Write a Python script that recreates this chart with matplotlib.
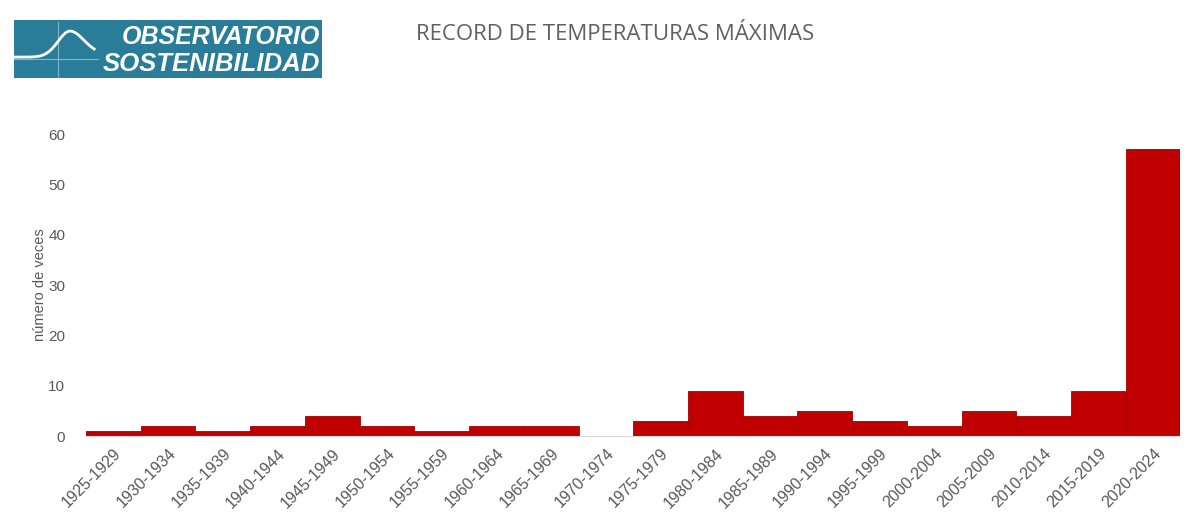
import matplotlib.pyplot as plt
import numpy as np

# periods and record counts
periodos = [
    "1925-1929", "1930-1934", "1935-1939", "1940-1944", "1945-1949",
    "1950-1954", "1955-1959", "1960-1964", "1965-1969", "1970-1974",
    "1975-1979", "1980-1984", "1985-1989", "1990-1994", "1995-1999",
    "2000-2004", "2005-2009", "2010-2014", "2015-2019", "2020-2024",
]
records = [1, 2, 1, 2, 4, 2, 1, 2, 2, 0, 3, 9, 4, 5, 3, 2, 5, 4, 9, 57]
yticks = [0, 10, 20, 30, 40, 50, 60]

gray = "#595959"
red = "#c00000"

fig = plt.figure(figsize=(12, 5.28), dpi=100)
ax = fig.add_axes([0.0717, 0.174, 0.912, 0.572])

x = np.arange(len(periodos))
ax.bar(x, records, width=1.0, color=red, edgecolor="#a80000", linewidth=0.6)
ax.set_xlim(-0.5, len(periodos) - 0.5)
ax.set_ylim(0, 60)
ax.set_yticks(yticks)
ax.set_xticks(x)
ax.set_xticklabels(periodos, rotation=45, ha="right", rotation_mode="anchor",
                   fontsize=11.5, color=gray, family="Liberation Sans")
ax.tick_params(axis="x", length=0, pad=7)
ax.tick_params(axis="y", length=0, pad=15, labelsize=11, labelcolor=gray)
for lab in ax.get_yticklabels():
    lab.set_family("Liberation Sans")
for s in ["top", "right", "left"]:
    ax.spines[s].set_visible(False)
ax.spines["bottom"].set_color("#d9d9d9")
ax.set_ylabel("número de veces", fontsize=10.5, color=gray, family="Liberation Sans",
              labelpad=1)

fig.text(0.5125, 0.935, "RECORD DE TEMPERATURAS MÁXIMAS", fontsize=16,
         color="#606060", family="Open Sans", ha="center", va="center")

# logo box
lg = fig.add_axes([0.0117, 0.852, 0.257, 0.110])
lg.set_facecolor("#2a7d98")
lg.set_xlim(0, 308)
lg.set_ylim(58, 0)
lg.set_xticks([])
lg.set_yticks([])
for s in lg.spines.values():
    s.set_visible(False)
lc = "#7fb8cb"
lg.plot([44, 44], [2, 58], color=lc, lw=0.8)
lg.plot([0, 84], [39, 39], color=lc, lw=0.8)
t = np.linspace(0, 80, 200)
curve = 37 - 26 * np.exp(-((t - 56) / 17) ** 2) * (t < 56) \
    - (26 * np.exp(-((t - 56) / 17) ** 2) * 0.55 + 26 * 0.45 * np.exp(-((t - 56) / 30) ** 2)) * (t >= 56)
lg.plot(t, curve, color="white", lw=2)
lg.text(306, 17, "OBSERVATORIO", color="white", fontsize=18, fontweight="bold",
        fontstyle="italic", family="Liberation Sans", ha="right", va="center")
lg.text(306, 44, "SOSTENIBILIDAD", color="white", fontsize=18.5, fontweight="bold",
        fontstyle="italic", family="Liberation Sans", ha="right", va="center")

fig.savefig("out.png", dpi=100, facecolor="white")
